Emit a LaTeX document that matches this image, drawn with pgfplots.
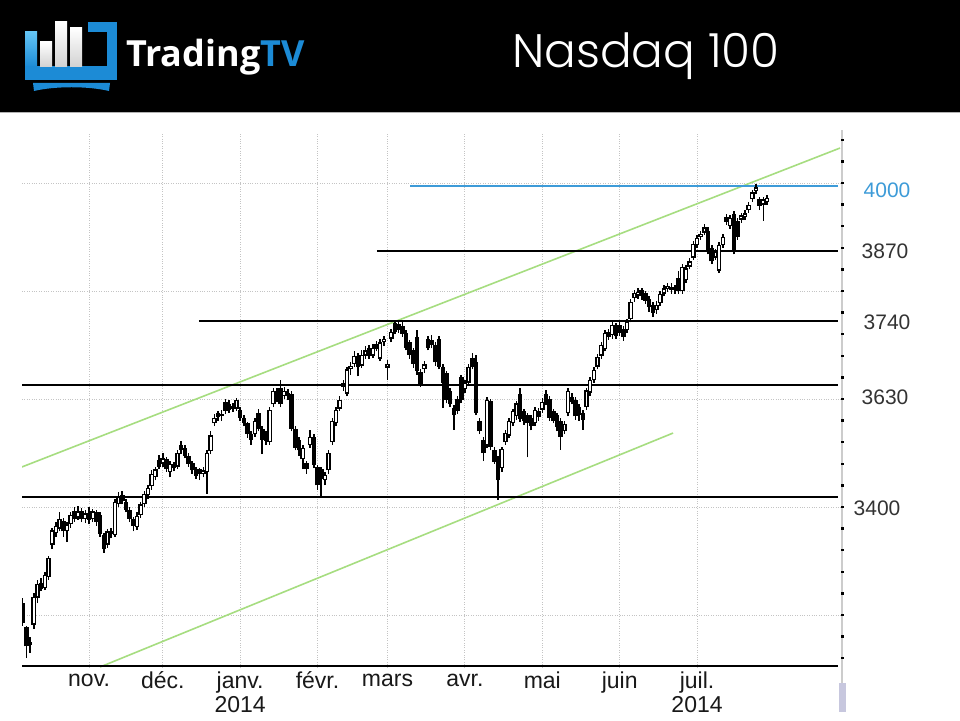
\documentclass[border=0pt]{standalone}
\usepackage{fontspec}
\setmainfont{Liberation Sans}
\newfontfamily\logofont{Open Sans}
\IfFontExistsTF{Poppins Light}{\newfontfamily\titlefont{Poppins Light}}{\newfontfamily\titlefont{Poppins}}
\usepackage{pgfplots}
\pgfplotsset{compat=1.18}
\usepackage{pgfplotstable}
\definecolor{logoblue}{HTML}{1C8BD6}
\definecolor{logolight}{HTML}{63C4F4}
\definecolor{levelblue}{HTML}{3D9BD8}
\definecolor{chan}{HTML}{A6DD80}
\definecolor{gridc}{HTML}{C4C4C4}
\definecolor{labc}{HTML}{333333}

% x = trading day (0 = 1 Nov 2013), o h l c = open high low close
\pgfplotstableread{
x o h l c
-18 3222 3232 3180 3185
-17 3178 3180 3120 3142
-16 3145 3160 3130 3150
-15 3182 3240 3175 3234
-14 3232 3265 3222 3258
-13 3260 3268 3244 3248
-12 3250 3280 3246 3275
-11 3270 3310 3265 3306
-10 3330 3362 3322 3357
-9 3352 3372 3345 3365
-8 3360 3390 3355 3378
-7 3375 3380 3345 3355
-6 3355 3372 3335 3368
-5 3368 3390 3362 3385
-4 3392 3400 3372 3378
-3 3380 3402 3376 3392
-2 3393 3398 3372 3377
-1 3378 3395 3370 3388
0 3388 3400 3368 3376
1 3378 3396 3372 3392
2 3390 3395 3365 3372
3 3385 3390 3345 3350
4 3348 3352 3315 3322
5 3330 3360 3325 3355
6 3355 3362 3342 3350
7 3348 3415 3345 3410
8 3405 3428 3400 3420
9 3422 3430 3405 3412
10 3410 3415 3390 3395
11 3395 3400 3372 3378
12 3378 3382 3355 3365
13 3363 3390 3358 3384
14 3385 3410 3380 3405
15 3405 3430 3400 3425
16 3422 3440 3415 3435
17 3438 3468 3432 3462
18 3455 3475 3450 3470
19 3487 3497 3470 3475
20 3480 3500 3475 3490
21 3488 3492 3465 3470
22 3465 3485 3455 3480
23 3480 3484 3466 3472
24 3475 3505 3470 3500
25 3515 3522 3498 3505
26 3510 3515 3490 3495
27 3495 3500 3475 3480
28 3482 3486 3462 3468
29 3470 3474 3452 3458
30 3470 3472 3450 3462
31 3462 3475 3455 3468
32 3465 3505 3425 3500
33 3503 3540 3498 3533
34 3555 3572 3550 3565
35 3574 3578 3560 3567
36 3568 3580 3560 3572
37 3595 3600 3572 3578
38 3590 3598 3575 3580
39 3582 3592 3576 3587
40 3582 3602 3578 3598
41 3580 3585 3560 3565
42 3565 3570 3550 3555
43 3555 3558 3528 3535
44 3535 3540 3515 3525
45 3535 3565 3530 3560
46 3575 3582 3540 3545
47 3545 3550 3498 3525
48 3535 3540 3515 3522
49 3520 3585 3515 3580
50 3590 3620 3585 3615
51 3615 3620 3595 3600
52 3620 3635 3585 3590
53 3605 3622 3600 3615
54 3612 3618 3598 3605
55 3610 3615 3540 3545
56 3545 3550 3505 3510
57 3525 3530 3495 3505
58 3488 3515 3470 3510
59 3482 3486 3462 3470
60 3515 3543 3510 3530
61 3530 3535 3472 3478
62 3475 3478 3432 3440
63 3470 3475 3418 3452
64 3450 3465 3440 3460
65 3468 3505 3462 3500
66 3520 3565 3515 3560
67 3555 3585 3550 3580
68 3582 3605 3578 3598
69 3630 3635 3615 3622
70 3610 3660 3605 3655
71 3655 3668 3645 3662
72 3665 3688 3660 3680
73 3680 3686 3642 3660
74 3662 3690 3658 3682
75 3680 3698 3675 3690
76 3695 3700 3675 3680
77 3680 3702 3676 3695
78 3702 3708 3688 3692
79 3675 3712 3670 3705
80 3705 3716 3698 3712
81 3658 3672 3635 3665
82 3712 3730 3705 3725
83 3740 3745 3720 3725
84 3738 3745 3722 3728
85 3735 3742 3715 3720
86 3722 3728 3690 3695
87 3705 3710 3675 3682
88 3690 3695 3658 3665
89 3715 3728 3645 3652
90 3650 3655 3622 3628
91 3655 3670 3648 3664
92 3712 3716 3690 3695
93 3710 3718 3694 3700
94 3700 3705 3662 3668
95 3712 3716 3655 3660
96 3660 3664 3583 3630
97 3648 3652 3592 3598
98 3615 3620 3585 3590
99 3583 3588 3543 3570
100 3600 3605 3572 3578
101 3640 3645 3592 3598
102 3618 3636 3612 3630
103 3630 3665 3625 3660
104 3676 3685 3655 3660
105 3668 3682 3570 3575
106 3560 3565 3535 3540
107 3525 3530 3485 3500
108 3515 3603 3510 3598
109 3596 3600 3505 3512
110 3506 3512 3480 3484
111 3490 3495 3413 3450
112 3472 3512 3465 3508
113 3520 3542 3515 3537
114 3532 3565 3528 3560
115 3555 3582 3550 3578
116 3568 3596 3562 3592
117 3610 3620 3558 3563
118 3578 3582 3552 3560
119 3570 3574 3492 3555
120 3565 3570 3542 3550
121 3555 3585 3550 3580
122 3578 3584 3560 3566
123 3580 3602 3575 3595
124 3610 3616 3588 3592
125 3600 3605 3560 3565
126 3578 3582 3555 3560
127 3570 3575 3540 3548
128 3560 3565 3506 3530
129 3541 3560 3535 3554
130 3574 3620 3568 3615
131 3604 3612 3590 3594
132 3598 3603 3562 3568
133 3585 3590 3560 3570
134 3575 3580 3543 3562
135 3585 3620 3580 3616
136 3612 3640 3606 3635
137 3635 3660 3630 3654
138 3660 3684 3655 3678
139 3680 3705 3675 3700
140 3692 3728 3688 3722
141 3724 3730 3710 3715
142 3718 3742 3712 3737
143 3735 3740 3712 3716
144 3737 3742 3716 3722
145 3730 3735 3708 3715
146 3728 3748 3722 3743
147 3748 3786 3742 3780
148 3787 3802 3780 3797
149 3792 3805 3786 3799
150 3802 3806 3784 3790
151 3796 3800 3776 3782
152 3785 3790 3762 3770
153 3775 3780 3752 3760
154 3765 3782 3758 3775
155 3778 3800 3772 3795
156 3795 3812 3790 3805
157 3803 3815 3798 3810
158 3808 3814 3795 3802
159 3802 3812 3795 3806
160 3825 3838 3795 3800
161 3800 3850 3795 3845
162 3820 3848 3815 3842
163 3845 3862 3840 3855
164 3862 3892 3858 3888
165 3885 3904 3880 3898
166 3900 3912 3895 3906
167 3908 3925 3904 3918
168 3912 3918 3868 3872
169 3880 3885 3850 3855
170 3862 3878 3858 3872
171 3838 3890 3833 3885
172 3885 3905 3880 3900
173 3938 3942 3922 3928
174 3920 3940 3915 3935
175 3942 3948 3868 3875
176 3930 3935 3895 3900
177 3932 3945 3926 3940
178 3938 3950 3932 3944
179 3950 3965 3945 3960
180 3970 3988 3965 3983
181 3985 3998 3980 3992
182 3970 3975 3950 3958
183 3960 3975 3930 3970
184 3965 3978 3960 3972
}\candles

\begin{document}
\begin{tikzpicture}[x=1pt,y=1pt]
\useasboundingbox (0,0) rectangle (960,720);
\fill[white] (0,0) rectangle (960,720);
% header band
\fill[black] (0,608) rectangle (960,720);
\draw[gray!60, line width=1.5pt] (0,607.3) -- (960,607.3);
% logo icon
\shade[top color=logolight, bottom color=logoblue] (25,653) rectangle (37,688);
\fill[logoblue] (25,640) rectangle (117,653.5);
\fill[logoblue] (106.5,640) rectangle (117,698);
\fill[logoblue] (88,688) rectangle (117,698);
\fill[logoblue] (33,637) -- (110,637) -- (109,629) .. controls (88,634) and (55,634) .. (34,629) -- cycle;
\shade[top color=white, bottom color=gray!35] (40,653.5) rectangle (52,678);
\shade[top color=white, bottom color=gray!35] (55,653.5) rectangle (67,698);
\shade[top color=white, bottom color=gray!35] (70,653.5) rectangle (82,692);
\node[anchor=base west, inner sep=0pt, font=\logofont\bfseries\fontsize{36}{36}\selectfont] at (126,653) {\textcolor{white}{Trading}\textcolor{logoblue}{TV}};
% title
\node[anchor=base west, inner sep=0pt, text=white, font=\titlefont\fontsize{47}{47}\selectfont] at (512,652) {Nasdaq 100};
% right price scale line and scroll thumb
\draw[gray!40, line width=1.5pt] (842,8) -- (842,590);
\fill[blue!25!gray!35] (839,8) rectangle (846,37);

\begin{axis}[
  at={(22pt,53pt)}, anchor=south west, scale only axis,
  width=820pt, height=535pt,
  xmin=-18.2, xmax=204.34, ymin=3103.7, ymax=4094.5,
  axis x line*=bottom, axis y line*=right,
  axis line style={draw=none},
  xtick={0,20,41,62,81,102,123,144,165},
  xticklabels={\strut nov.,\strut déc.,{\strut janv.\\2014},\strut févr.,\strut mars,\strut avr.,\strut mai,\strut juin,{\strut juil.\\2014}},
  xticklabel style={font=\fontsize{23}{21}\selectfont, align=center, text=black!90},
  xtick style={draw=none},
  ytick={3000,3200,...,4200},
  minor y tick num=4,
  yticklabels={},
  ytick style={black, line width=2.5pt},
  minor tick style={black, line width=2.5pt},
  tick align=center,
  major tick length=3pt, minor tick length=3pt,
  grid=major,
  major grid style={dotted, gridc, line width=0.9pt},
]
% channel lines
\addplot[chan, line width=1.6pt, forget plot] coordinates {(-18.2,3474.2) (203.8,4064.8)};
\addplot[chan, line width=1.6pt, forget plot] coordinates {(2.98,3103.7) (158.5,3537)};
% levels
\addplot[levelblue, line width=1.4pt, forget plot] coordinates {(87.1,3994.5) (203.3,3994.5)};
\addplot[black, line width=1.4pt, forget plot] coordinates {(78.1,3874) (203.3,3874)};
\addplot[black, line width=1.4pt, forget plot] coordinates {(29.8,3744.6) (203.3,3744.6)};
\addplot[black, line width=1.4pt, forget plot] coordinates {(-18.2,3626) (203.3,3626)};
\addplot[black, line width=1.4pt, forget plot] coordinates {(-18.2,3418.6) (203.3,3418.6)};
\addplot[black, line width=1.8pt, forget plot] coordinates {(-18.2,3105) (203.3,3105)};
% candles: wicks
\addplot[draw=none, no markers, forget plot,
  error bars/.cd, y dir=plus, y explicit, error mark=none,
  error bar style={draw=black, line width=1.5pt}]
  table[x=x, y=l, y error expr={\thisrow{h}-\thisrow{l}}] {\candles};
% bodies
\addplot[draw=none, no markers, forget plot,
  error bars/.cd, y dir=plus, y explicit, error mark=none,
  error bar style={draw=black, line width=4.6pt}]
  table[x=x, y expr={min(\thisrow{o},\thisrow{c})}, y error expr={max(abs(\thisrow{c}-\thisrow{o}),2.5)}] {\candles};
% hollow interior of rising candles
\addplot[draw=none, no markers, forget plot,
  error bars/.cd, y dir=plus, y explicit, error mark=none,
  error bar style={draw=white, line width=1.8pt}]
  table[x=x, y expr={min(\thisrow{o},\thisrow{c})+2.5}, y error expr={max(\thisrow{c}-\thisrow{o}-5,0)}] {\candles};
\end{axis}
% level labels
\node[font=\fontsize{21}{21}\selectfont, text=levelblue] at (887,530) {4000};
\node[font=\fontsize{21}{21}\selectfont, text=labc] at (885,469) {3870};
\node[font=\fontsize{21}{21}\selectfont, text=labc] at (887,398) {3740};
\node[font=\fontsize{21}{21}\selectfont, text=labc] at (885,323) {3630};
\node[font=\fontsize{21}{21}\selectfont, text=labc] at (877,212) {3400};
\end{tikzpicture}
\end{document}
